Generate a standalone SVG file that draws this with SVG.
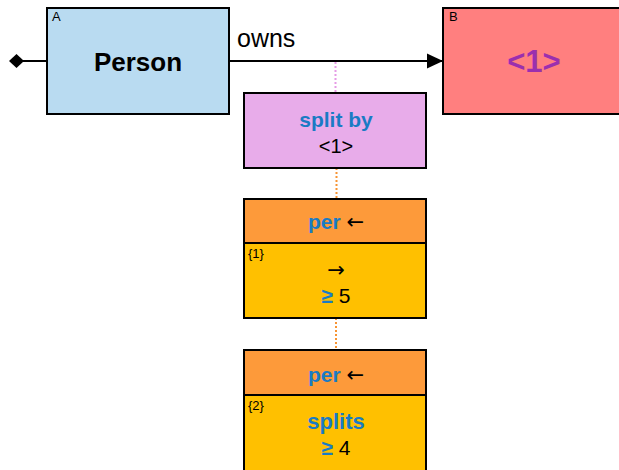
<svg xmlns="http://www.w3.org/2000/svg" width="619" height="470" viewBox="0 0 619 470">
<style>
.box{stroke:#000;stroke-width:2}
.t{font-family:"Liberation Sans",Arial,sans-serif;text-anchor:middle}
.kw{fill:#1a7bc4;font-weight:bold}
.ar{font-family:"DejaVu Sans",sans-serif;font-weight:normal;fill:#000}
.sm{font-family:"Liberation Sans",Arial,sans-serif;font-size:13px;fill:#000}
</style>
<defs>
<marker id="arr" markerWidth="16" markerHeight="16" refX="16" refY="8" orient="auto" markerUnits="userSpaceOnUse">
<path d="M0,0.5 L16,8 L0,15.5 Z" fill="#000"/>
</marker>
</defs>
<rect width="619" height="470" fill="#fff"/>
<g id="connectors">
<line x1="47" y1="61" x2="22" y2="61" stroke="#000" stroke-width="2"/>
<path d="M9,61 L16.5,54 L24,61 L16.5,68 Z" fill="#000"/>
<line x1="229" y1="61" x2="443" y2="61" stroke="#000" stroke-width="2" marker-end="url(#arr)"/>
<text x="237" y="47" font-family="'Liberation Sans',Arial,sans-serif" font-size="25" fill="#000">owns</text>
<line x1="335.5" y1="62" x2="335.5" y2="92" stroke="#e69be6" stroke-width="2" stroke-dasharray="2,2"/>
<line x1="336.5" y1="168" x2="336.5" y2="199" stroke="#f79433" stroke-width="2" stroke-dasharray="2,2"/>
<line x1="336" y1="318" x2="336" y2="350" stroke="#f79433" stroke-width="2" stroke-dasharray="2,2"/>
</g>
<g id="nodeA">
<rect class="box" x="47" y="8" width="182" height="106" fill="#b9dbf1"/>
<text class="sm" x="52" y="21">A</text>
<text class="t" x="138" y="71" font-size="26" font-weight="bold">Person</text>
</g>
<g id="nodeB">
<rect class="box" x="443" y="8" width="190" height="106" fill="#ff7f7f"/>
<text class="sm" x="449" y="21">B</text>
<text class="t" x="534" y="72" font-size="31" font-weight="bold" fill="#9b2fae">&lt;1&gt;</text>
</g>
<g id="splitBy">
<rect class="box" x="244" y="93" width="182" height="75" fill="#e8acea"/>
<text class="t kw" x="336" y="127" font-size="21">split by</text>
<text class="t" x="336" y="153" font-size="20">&lt;1&gt;</text>
</g>
<g id="per1">
<rect class="box" x="244" y="199" width="182" height="44" fill="#fd9a3a"/>
<rect class="box" x="244" y="243" width="182" height="75" fill="#ffc000"/>
<text class="t" x="336" y="229" font-size="21"><tspan class="kw">per</tspan> <tspan class="ar">←</tspan></text>
<text class="sm" x="248" y="258">{1}</text>
<text class="t ar" x="336" y="277" font-size="21">→</text>
<text class="t" x="336" y="303" font-size="21"><tspan class="kw">≥</tspan> 5</text>
</g>
<g id="per2">
<rect class="box" x="244" y="350" width="182" height="45" fill="#fd9a3a"/>
<rect class="box" x="244" y="395" width="182" height="80" fill="#ffc000"/>
<text class="t" x="336" y="382" font-size="21"><tspan class="kw">per</tspan> <tspan class="ar">←</tspan></text>
<text class="sm" x="248" y="410">{2}</text>
<text class="t kw" x="336" y="429" font-size="22">splits</text>
<text class="t" x="336" y="455" font-size="21"><tspan class="kw">≥</tspan> 4</text>
</g>
</svg>
